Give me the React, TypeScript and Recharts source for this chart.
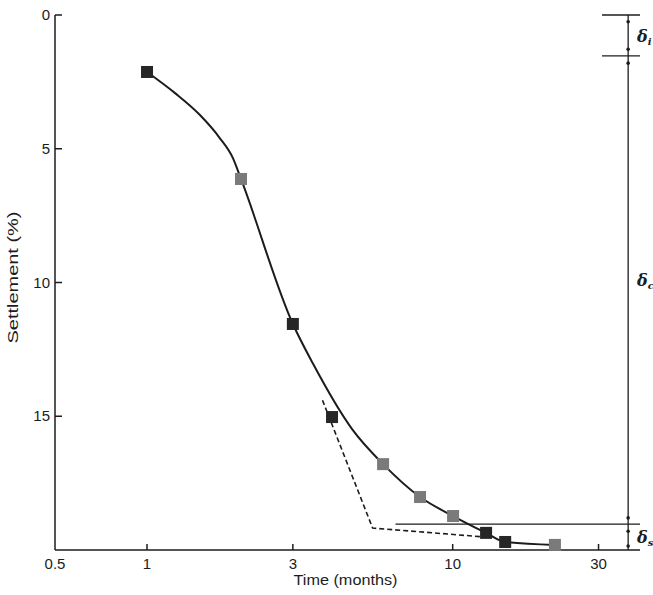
import React from "react"
import {
  ComposedChart,
  Line,
  Scatter,
  XAxis,
  YAxis,
  ReferenceLine,
  ReferenceDot,
} from "recharts"

// measured points (dark and grey squares)
const darkPoints = [
  { t: 1, s: 2.13 },
  { t: 3, s: 11.55 },
  { t: 4.03, s: 15.03 },
  { t: 12.86, s: 19.36 },
  { t: 14.85, s: 19.7 },
]
const greyPoints = [
  { t: 2.03, s: 6.13 },
  { t: 5.92, s: 16.79 },
  { t: 7.82, s: 18.02 },
  { t: 10.03, s: 18.73 },
  { t: 21.6, s: 19.81 },
]

// fitted solid curve
const curve = [
  { t: 1, s: 2.13 },
  { t: 1.235, s: 2.92 },
  { t: 1.49, s: 3.74 },
  { t: 1.73, s: 4.6 },
  { t: 1.91, s: 5.35 },
  { t: 2.03, s: 6.13 },
  { t: 3, s: 11.55 },
  { t: 3.49, s: 13.03 },
  { t: 4.68, s: 15.47 },
  { t: 5.92, s: 16.79 },
  { t: 7.82, s: 18.02 },
  { t: 10.03, s: 18.73 },
  { t: 12.86, s: 19.36 },
  { t: 14.85, s: 19.7 },
  { t: 21.6, s: 19.81 },
]

// dashed idealised line
const dashed = [
  { t: 3.75, s: 14.4 },
  { t: 5.47, s: 19.18 },
  { t: 12.3, s: 19.5 },
]

const xTicks = [0.5, 1, 3, 10, 30]
const yTicks = [0, 5, 10, 15]

// arrow heads on the delta bracket
const bracketDots = [0.25, 1.28, 1.8, 18.8, 19.3, 19.85]

const X_MIN = 0.5
const X_MAX = 41
const Y_MAX = 20

const INK = "#1c1c1c"
const FONT = "'Liberation Sans', Arial, sans-serif"

const Square = (fill: string) => (props: any) => {
  const { cx, cy } = props
  return <rect x={cx - 6} y={cy - 6} width={12} height={12} fill={fill} />
}

const YTick = (props: any) => {
  const { x, y, payload } = props
  return (
    <text x={x} y={y + 5} textAnchor="end" fontSize={15} fill={INK} fontFamily={FONT}>
      {payload.value}
    </text>
  )
}

const XTick = (props: any) => {
  const { x, y, payload } = props
  return (
    <text x={x} y={y + 11} textAnchor="middle" fontSize={15} fill={INK} fontFamily={FONT}>
      {payload.value}
    </text>
  )
}

const YTitle = (props: any) => {
  const { viewBox } = props
  const cx = viewBox.x + 13
  const cy = viewBox.y + viewBox.height / 2 - 5
  return (
    <text
      x={cx}
      y={cy}
      transform={`rotate(-90, ${cx}, ${cy})`}
      textAnchor="middle"
      dominantBaseline="central"
      fontSize={14}
      textLength={132}
      lengthAdjust="spacingAndGlyphs"
      fill={INK}
      fontFamily={FONT}
    >
      Settlement (%)
    </text>
  )
}

const XTitle = (props: any) => {
  const { viewBox } = props
  return (
    <text
      x={viewBox.x + viewBox.width / 2 - 2}
      y={viewBox.y + 35}
      textAnchor="middle"
      fontSize={14}
      textLength={104}
      lengthAdjust="spacingAndGlyphs"
      fill={INK}
      fontFamily={FONT}
    >
      Time (months)
    </text>
  )
}

const deltaLabel = (sub: string) => (props: any) => {
  const { viewBox } = props
  return (
    <text
      x={viewBox.x + 9}
      y={viewBox.y + 6}
      fontSize={16}
      fontStyle="italic"
      fontWeight="bold"
      fill={INK}
      fontFamily="'DejaVu Serif', serif"
    >
      δ<tspan fontSize={10} dy={3}>{sub}</tspan>
    </text>
  )
}

export default function App() {
  // inward tick marks: ~7px along a log axis of ~306px per decade, ~6px on the y axis
  const yTickEnd = X_MIN * Math.pow(10, 7 / 306)
  const xTickTop = Y_MAX - 6 / 26.75
  return (
    <div style={{ position: "absolute", left: 0, top: 0, background: "#fff" }}>
      <ComposedChart width={653} height={595} margin={{ top: 15, right: 13, bottom: 0, left: 0 }}>
        <XAxis
          type="number"
          dataKey="t"
          scale="log"
          domain={[X_MIN, X_MAX]}
          ticks={xTicks}
          allowDataOverflow
          tickSize={0}
          tickMargin={8}
          tickLine={false}
          tick={<XTick />}
          height={45}
          stroke={INK}
          strokeWidth={1.5}
          label={<XTitle />}
        />
        <YAxis
          type="number"
          dataKey="s"
          reversed
          domain={[0, Y_MAX]}
          ticks={yTicks}
          width={55}
          tickSize={0}
          tickMargin={5}
          tickLine={false}
          tick={<YTick />}
          stroke={INK}
          strokeWidth={1.5}
          label={<YTitle />}
        />

        {yTicks.map((v) => (
          <ReferenceLine
            key={`yt${v}`}
            segment={[{ x: X_MIN, y: v }, { x: yTickEnd, y: v }]}
            stroke={INK}
            strokeWidth={1.5}
            ifOverflow="visible"
          />
        ))}
        {xTicks
          .filter((v) => v !== X_MIN)
          .map((v) => (
            <ReferenceLine
              key={`xt${v}`}
              segment={[{ x: v, y: Y_MAX }, { x: v, y: xTickTop }]}
              stroke={INK}
              strokeWidth={1.5}
              ifOverflow="visible"
            />
          ))}

        {/* final settlement level */}
        <ReferenceLine
          segment={[{ x: 6.5, y: 19.03 }, { x: X_MAX, y: 19.03 }]}
          stroke={INK}
          strokeWidth={1.2}
          ifOverflow="visible"
        />
        {/* delta bracket on the right */}
        <ReferenceLine
          segment={[{ x: 37.5, y: 0 }, { x: 37.5, y: Y_MAX }]}
          stroke={INK}
          strokeWidth={1.3}
          ifOverflow="visible"
        />
        <ReferenceLine
          segment={[{ x: 30.8, y: 0 }, { x: X_MAX, y: 0 }]}
          stroke={INK}
          strokeWidth={1.3}
          ifOverflow="visible"
        />
        <ReferenceLine
          segment={[{ x: 30.8, y: 1.53 }, { x: X_MAX, y: 1.53 }]}
          stroke={INK}
          strokeWidth={1.3}
          ifOverflow="visible"
        />
        {bracketDots.map((v) => (
          <ReferenceDot key={v} x={37.5} y={v} r={1.8} fill={INK} stroke="none" ifOverflow="visible" />
        ))}
        <ReferenceDot x={37.5} y={0.78} r={0.1} fill="none" stroke="none" ifOverflow="visible" label={deltaLabel("i")} />
        <ReferenceDot x={37.5} y={9.9} r={0.1} fill="none" stroke="none" ifOverflow="visible" label={deltaLabel("c")} />
        <ReferenceDot x={37.5} y={19.5} r={0.1} fill="none" stroke="none" ifOverflow="visible" label={deltaLabel("s")} />

        <Line
          data={dashed}
          dataKey="s"
          type="linear"
          stroke={INK}
          strokeWidth={1.6}
          strokeDasharray="5 3"
          dot={false}
          isAnimationActive={false}
        />
        <Line
          data={curve}
          dataKey="s"
          type="monotone"
          stroke={INK}
          strokeWidth={2}
          dot={false}
          isAnimationActive={false}
        />
        <Scatter data={greyPoints} dataKey="s" shape={Square("#7a7a7a")} isAnimationActive={false} />
        <Scatter data={darkPoints} dataKey="s" shape={Square("#262626")} isAnimationActive={false} />
      </ComposedChart>
    </div>
  )
}
